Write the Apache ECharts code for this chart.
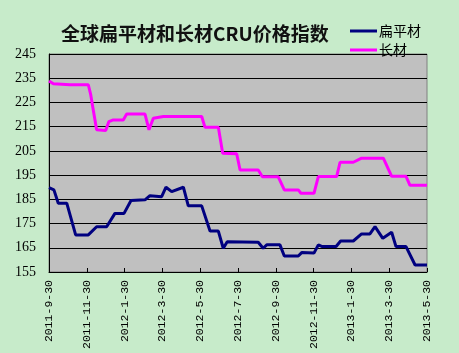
<!DOCTYPE html>
<html lang="zh">
<head>
    <meta charset="UTF-8">
    <title>全球扁平材和长材CRU价格指数</title>
    <script src="https://cdn.jsdelivr.net/npm/echarts@6/dist/echarts.min.js"></script>
    <style>
        html, body { margin: 0; padding: 0; background: #C7EBCA; }
    </style>
</head>
<body>
<div id="main" style="width: 459px;height:353px;"></div>
<script type="text/javascript">
    // x轴刻度标签（每两个月一个）
    var xLabels = ['2011-9-30', '2011-11-30', '2012-1-30', '2012-3-30', '2012-5-30', '2012-7-30',
        '2012-9-30', '2012-11-30', '2013-1-30', '2013-3-30', '2013-5-30'];

    // 扁平材：横坐标为距2011-9-30的月数
    var flatX = [0, 0.26, 0.49, 0.94, 1.41, 2.08, 2.52, 3.05, 3.49, 3.97, 4.34, 5.08, 5.34, 5.96, 6.19, 6.49,
        7.11, 7.37, 8.08, 8.52, 8.96, 9.22, 9.43, 11.07, 11.33, 11.52, 12.22, 12.45, 13.19, 13.37, 14.02,
        14.25, 14.46, 15.19, 15.43, 16.10, 16.54, 16.98, 17.25, 17.66, 18.13, 18.36, 18.89, 19.37, 20];
    var flatVal = [189.8, 188.9, 183.4, 183.4, 170.3, 170.3, 173.7, 173.7, 179.2, 179.2, 184.5, 184.8, 186.5, 186.1, 190.0, 188.2,
        190.0, 182.3, 182.3, 171.9, 171.9, 164.8, 167.5, 167.3, 164.8, 166.2, 166.2, 161.6, 161.6, 163.0, 162.8,
        166.2, 165.5, 165.5, 167.8, 167.8, 170.7, 170.7, 173.7, 168.9, 171.4, 165.5, 165.5, 157.9, 157.9];

    // 长材
    var longX = [0, 0.23, 1.11, 2.08, 2.21, 2.34, 2.52, 3.0, 3.17, 3.40, 3.93, 4.11, 5.08, 5.29, 5.52, 6.05,
        8.08, 8.25, 8.96, 9.19, 9.93, 10.11, 11.07, 11.29, 12.13, 12.45, 13.19, 13.33, 14.02, 14.25, 15.22,
        15.40, 16.10, 16.54, 17.69, 18.13, 18.89, 19.10, 20];
    var longVal = [233.9, 232.7, 232.3, 232.3, 228.1, 222.0, 213.7, 213.4, 217.1, 217.8, 217.8, 220.2, 220.2, 213.7, 218.5, 219.2,
        219.2, 214.8, 214.8, 204.0, 203.8, 197.1, 197.1, 194.3, 194.3, 188.9, 188.9, 187.5, 187.5, 194.4, 194.4,
        200.3, 200.3, 202.0, 202.0, 194.5, 194.5, 190.8, 190.8];

    function pairs(xs, ys) {
        var out = [];
        for (var i = 0; i < xs.length; i++) {
            out.push([xs[i], ys[i]]);
        }
        return out;
    }

    var myChart = echarts.init(document.getElementById('main'));
    myChart.setOption({
        backgroundColor: '#C7EBCA',
        animation: false,
        title: {
            text: '全球扁平材和长材CRU价格指数',
            left: 56,
            top: 19,
            textStyle: {
                fontFamily: 'Noto Sans CJK SC',
                fontWeight: 'bold',
                fontSize: 19,
                color: '#111'
            }
        },
        legend: {
            orient: 'vertical',
            left: 345,
            top: 19,
            itemGap: 5,
            itemWidth: 27,
            itemHeight: 3,
            icon: 'rect',
            textStyle: {
                fontFamily: 'Noto Sans CJK SC',
                fontSize: 14,
                color: '#000',
                padding: [0, 0, 0, -3]
            },
            data: ['扁平材', '长材']
        },
        grid: {
            left: 49,
            right: 32,
            top: 54,
            bottom: 81,
            show: true,
            backgroundColor: '#C0C0C0',
            borderColor: '#808080',
            borderWidth: 1
        },
        xAxis: {
            type: 'value',
            min: 0,
            max: 20,
            interval: 2,
            splitLine: { show: false },
            axisLine: { lineStyle: { color: '#000', width: 1 } },
            axisTick: { show: true, inside: true, length: 4, lineStyle: { color: '#000' } },
            axisLabel: {
                rotate: 90,
                margin: 8,
                fontFamily: 'Liberation Mono',
                fontSize: 11.5,
                color: '#000',
                formatter: function (v) { return xLabels[Math.round(v / 2)]; }
            }
        },
        yAxis: {
            type: 'value',
            min: 155,
            max: 245,
            interval: 10,
            axisLine: { show: true, lineStyle: { color: '#000', width: 1 } },
            axisTick: { show: false },
            splitLine: { lineStyle: { color: '#000', width: 1 } },
            axisLabel: {
                margin: 13,
                fontFamily: 'Liberation Sans Narrow',
                fontSize: 14,
                color: '#000'
            }
        },
        series: [
            {
                name: '扁平材',
                type: 'line',
                data: pairs(flatX, flatVal),
                showSymbol: false,
                color: '#000080',
                lineStyle: { width: 3, color: '#000080' }
            },
            {
                name: '长材',
                type: 'line',
                data: pairs(longX, longVal),
                showSymbol: false,
                color: '#FF00FF',
                lineStyle: { width: 3, color: '#FF00FF' }
            }
        ]
    });
</script>
</body>
</html>
